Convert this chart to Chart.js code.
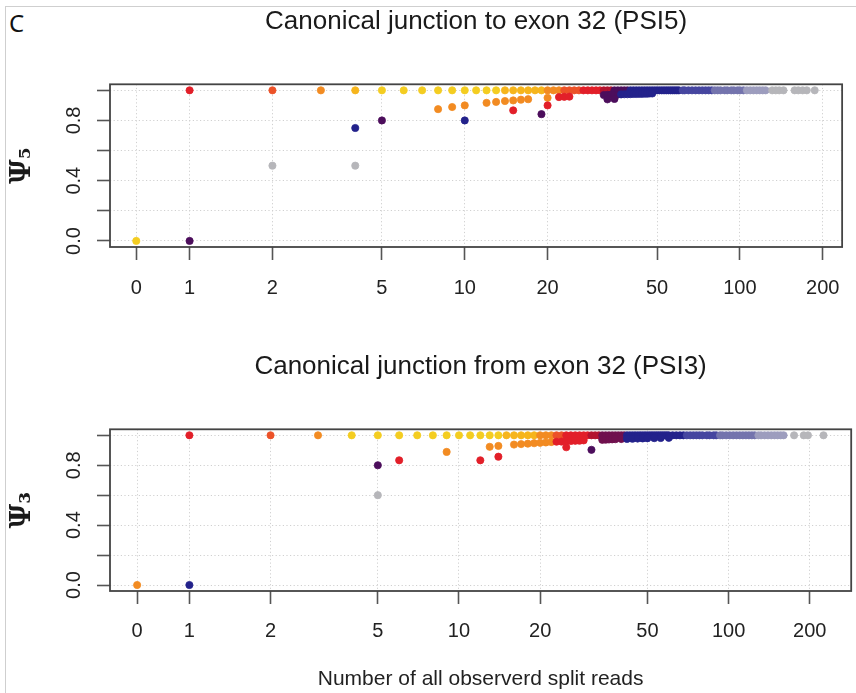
<!DOCTYPE html>
<html>
<head>
<meta charset="utf-8">
<script src="https://cdn.jsdelivr.net/npm/chart.js@4.4.1/dist/chart.umd.min.js"></script>
<style>
  body { margin: 0; background: #fff; }
  #wrap { position: relative; width: 856px; height: 693px; overflow: hidden; }
  #frame { position: absolute; left: 5px; top: 6px; right: -2px; bottom: -2px;
           border-top: 1px solid #cfcfcf; border-left: 1px solid #cfcfcf; }
  #panel { position: absolute; left: 9px; top: 6px; font: 24px "Noto Sans"; color: #111; }
  canvas { position: absolute; left: 0; }
</style>
</head>
<body>
<div id="wrap">
  <div id="frame"></div>
  <div id="panel">C</div>
  <canvas id="psi5" width="856" height="310" style="top:0"></canvas>
  <canvas id="psi3" width="856" height="383" style="top:310px"></canvas>
</div>
<script>
// axis ticks
const X_TICKS = [0, 1, 2, 5, 10, 20, 50, 100, 200];
const Y_TICKS = [0, 0.2, 0.4, 0.6, 0.8, 1];
const Y_LABELLED = [0, 0.4, 0.8];
const ZERO_AT = 0.64; // where the 0-read column sits on the log axis

// ---- PSI5: reads with psi = 1 (x only), other points as [reads, psi]
const psi5Yellow = [5, 6, 7, 8, 9, 10, 11, 12, 13];
const psi5YellowPart = [[0, 0]];
const psi5Gold = [4, 14, 15, 16, 17, 18, 19];
const psi5Orange = [3, 20, 21, 22];
const psi5OrangePart = [[8, 0.875], [9, 0.889], [10, 0.9], [12, 0.917], [13, 0.923], [14, 0.929],
  [15, 0.933], [16, 0.938], [17, 0.941], [20, 0.95]];
const psi5RedOrange = [2, 23, 24, 25, 26];
const psi5Red = [1, 27, 28, 29, 30, 31];
const psi5RedPart = [[15, 0.867], [20, 0.9], [22, 0.955], [23, 0.957], [24, 0.958]];
const psi5Crimson = [32, 33, 34];
const psi5Purple = [35, 36, 37, 38, 39];
const psi5PurplePart = [[1, 0], [5, 0.8], [19, 0.842], [32, 0.969], [33, 0.97], [34, 0.971],
  [35, 0.971], [36, 0.972], [33, 0.94], [35, 0.943]];
const psi5Navy = [40, 41, 42, 43, 44, 45, 46, 47, 48, 49, 50, 51, 52, 53, 54, 55, 56, 57, 58, 59, 60];
const psi5NavyPart = [[4, 0.75], [10, 0.8], [37, 0.973], [38, 0.974], [39, 0.974], [40, 0.975],
  [41, 0.976], [42, 0.976], [43, 0.977], [44, 0.977], [45, 0.978], [46, 0.978], [47, 0.979], [48, 0.979]];
const psi5Blue = [62, 63, 65, 67, 69, 71, 73, 75, 77, 79];
const psi5Slate = [81, 83, 85, 88, 90, 93, 95, 98, 100, 103];
const psi5Light = [106, 109, 112, 115, 118, 121, 124];
const psi5Grey = [131, 135, 139, 144, 158, 163, 169, 175, 187];
const psi5GreyPart = [[2, 0.5], [4, 0.5]];

// ---- PSI3
const psi3Yellow = [4, 5, 6, 7, 8, 9, 10, 11, 12, 13, 14];
const psi3Gold = [15, 16, 17, 18, 19];
const psi3Orange = [3, 20, 21, 22];
const psi3OrangePart = [[0, 0], [9, 0.889], [13, 0.923], [14, 0.929], [16, 0.938], [17, 0.941],
  [18, 0.944], [19, 0.947], [20, 0.95], [21, 0.952], [22, 0.955]];
const psi3RedOrange = [2, 23, 24];
const psi3Red = [1, 25, 26, 27, 28, 29, 30];
const psi3RedPart = [[6, 0.833], [12, 0.833], [14, 0.857], [25, 0.92], [23, 0.957], [24, 0.958],
  [25, 0.96], [26, 0.962], [27, 0.963], [28, 0.964], [29, 0.966]];
const psi3Crimson = [31, 32, 33];
const psi3Maroon = [34, 35, 36, 37, 38, 39, 40, 41];
const psi3MaroonPart = [[34, 0.97], [35, 0.971], [36, 0.972], [37, 0.973], [38, 0.974], [40, 0.975]];
const psi3PurplePart = [[5, 0.8], [31, 0.903]];
const psi3Navy = [42, 43, 44, 45, 46, 47, 48, 49, 50, 51, 52, 53, 54, 55, 56, 57, 58, 59, 60, 62, 64, 66, 68];
const psi3NavyPart = [[1, 0], [42, 0.976], [44, 0.977], [46, 0.978], [48, 0.979], [50, 0.98],
  [53, 0.981], [56, 0.982], [60, 0.983]];
const psi3Blue = [70, 72, 74, 76, 78, 80, 83, 85, 88, 90];
const psi3Slate = [93, 95, 98, 101, 104, 107, 110, 113, 116, 119, 122, 125];
const psi3Light = [129, 132, 136, 140, 144, 148, 152, 156, 160];
const psi3Grey = [175, 190, 197, 225];
const psi3GreyPart = [[5, 0.6]];

const COL = {
  yellow: '#f4cd21', gold: '#f6b51c', orange: '#f28b22', redOrange: '#ec5228',
  red: '#e21f29', crimson: '#b3132f', purple: '#4c0e5c', maroon: '#70104e',
  navy: '#23228b', blue: '#4646a0', slate: '#7474ad', light: '#9d9dbe', grey: '#b6b6ba'
};

const xPos = x => (x === 0 ? ZERO_AT : x);

function pts(full, part) {
  const a = (full || []).map(x => ({ x: xPos(x), y: 1 }));
  const b = (part || []).map(p => ({ x: xPos(p[0]), y: p[1] }));
  return a.concat(b);
}

function ds(color, full, part) {
  return {
    data: pts(full, part),
    backgroundColor: color,
    borderColor: color,
    pointRadius: 3.6,
    pointBorderWidth: 0.8,
    showLine: false
  };
}

const boxPlugin = {
  id: 'box',
  afterDraw(chart) {
    const a = chart.chartArea, c = chart.ctx;
    c.save();
    c.strokeStyle = '#444';
    c.lineWidth = 1.8;
    c.strokeRect(a.left, a.top, a.right - a.left, a.bottom - a.top);
    c.restore();
  }
};

function panel(id, title, yTitle, datasets, p) {
  const xAxis = {
    type: 'logarithmic',
    min: p.xMin, max: p.xMax,
    afterBuildTicks: s => { s.ticks = X_TICKS.map(v => ({ value: xPos(v) })); },
    afterFit: s => { s.height = p.xHeight; },
    ticks: {
      autoSkip: false, maxRotation: 0, padding: p.xPad, color: '#222',
      font: { family: 'Liberation Sans', size: 20 },
      callback: v => String(X_TICKS.find(t => Math.abs(xPos(t) - v) < 1e-9))
    },
    grid: { color: '#d0d0d0', lineWidth: 1, tickLength: 13, tickColor: '#555', tickWidth: 1.6, tickBorderDash: [] },
    border: { display: false, dash: [1.2, 2.4] },
    title: p.xTitle ? { display: true, text: p.xTitle, color: '#222',
      font: { family: 'Liberation Sans', size: 21 }, padding: { top: 0, bottom: 1 } } : { display: false }
  };
  const yAxis = {
    type: 'linear', min: -0.04, max: 1.04,
    afterBuildTicks: s => { s.ticks = Y_TICKS.map(v => ({ value: v })); },
    afterFit: s => { s.width = 110; },
    ticks: {
      minRotation: 90, maxRotation: 90, crossAlign: 'center', padding: 9, color: '#222',
      font: { family: 'Liberation Sans', size: 20 },
      callback: v => (Y_LABELLED.some(l => Math.abs(l - v) < 1e-9) ? v.toFixed(1) : '')
    },
    grid: { color: '#d0d0d0', lineWidth: 1, tickLength: 13, tickColor: '#555', tickWidth: 1.6, tickBorderDash: [] },
    border: { display: false, dash: [1.2, 2.4] },
    title: { display: true, text: yTitle, color: '#1a1a1a',
      font: { family: 'DejaVu Serif', size: 27, weight: 'bold' }, padding: { top: 7, bottom: 0 } }
  };
  return new Chart(document.getElementById(id), {
    type: 'scatter',
    data: { datasets },
    options: {
      responsive: false, animation: false,
      layout: { padding: { left: 0, right: p.padRight, top: 0, bottom: 0 } },
      scales: { x: xAxis, y: yAxis },
      plugins: {
        legend: { display: false }, tooltip: { enabled: false },
        title: { display: true, text: title, fullSize: false, color: '#1a1a1a',
          font: { family: 'Liberation Sans', size: 26, weight: 'normal' },
          padding: { top: p.tTop, bottom: p.tBottom } }
      }
    },
    plugins: [boxPlugin]
  });
}

panel('psi5', 'Canonical junction to exon 32 (PSI5)', 'Ψ₅', [
  ds(COL.grey, psi5Grey, psi5GreyPart),
  ds(COL.light, psi5Light),
  ds(COL.slate, psi5Slate),
  ds(COL.blue, psi5Blue),
  ds(COL.navy, psi5Navy, psi5NavyPart),
  ds(COL.purple, psi5Purple, psi5PurplePart),
  ds(COL.crimson, psi5Crimson),
  ds(COL.red, psi5Red, psi5RedPart),
  ds(COL.redOrange, psi5RedOrange),
  ds(COL.orange, psi5Orange, psi5OrangePart),
  ds(COL.gold, psi5Gold),
  ds(COL.yellow, psi5Yellow, psi5YellowPart)
], { xMin: 0.5137, xMax: 235.2, xHeight: 63, xPad: 16.2, padRight: 1, tTop: 6.4, tBottom: 46.7 });

panel('psi3', 'Canonical junction from exon 32 (PSI3)', 'Ψ₃', [
  ds(COL.grey, psi3Grey, psi3GreyPart),
  ds(COL.light, psi3Light),
  ds(COL.slate, psi3Slate),
  ds(COL.blue, psi3Blue),
  ds(COL.navy, psi3Navy, psi3NavyPart),
  ds(COL.maroon, psi3Maroon, psi3MaroonPart),
  ds(COL.purple, null, psi3PurplePart),
  ds(COL.crimson, psi3Crimson),
  ds(COL.red, psi3Red, psi3RedPart),
  ds(COL.redOrange, psi3RedOrange),
  ds(COL.orange, psi3Orange, psi3OrangePart),
  ds(COL.gold, psi3Gold),
  ds(COL.yellow, psi3Yellow)
], { xMin: 0.5076, xMax: 285.0, xHeight: 102, xPad: 15.8, padRight: 2, tTop: 41.4, tBottom: 46.7,
     xTitle: 'Number of all observerd split reads' });
</script>
</body>
</html>
